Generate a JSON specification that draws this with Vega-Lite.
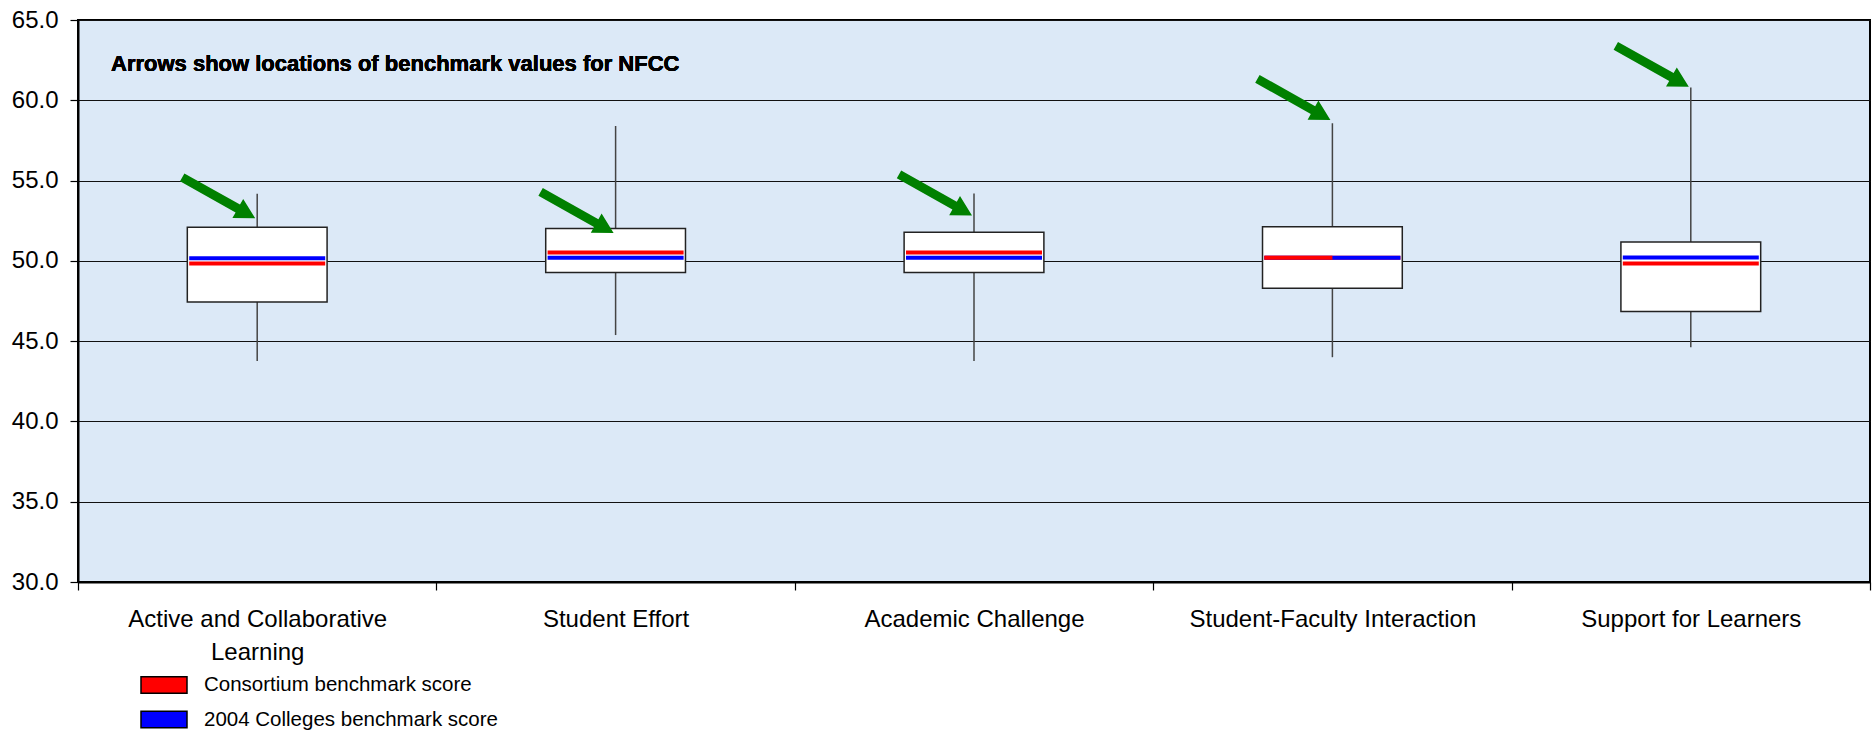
{
  "$schema": "https://vega.github.io/schema/vega-lite/v6.json",
  "autosize": {"type": "none"},
  "padding": {"left": 78, "top": 20, "right": 3, "bottom": 149},
  "width": 1792,
  "height": 562,
  "background": "white",
  "config": {
    "view": {"fill": "#dce9f7", "stroke": "black", "strokeWidth": 2},
    "font": "Liberation Sans"
  },
  "datasets": {
    "boxes": [
      {"category": "Active and Collaborative Learning", "min": 43.77, "q1": 47.43, "q3": 52.1, "max": 54.18, "Consortium benchmark score": 49.83, "2004 Colleges benchmark score": 50.17, "benchmark": 52.65},
      {"category": "Student Effort", "min": 45.38, "q1": 49.27, "q3": 52.02, "max": 58.4, "Consortium benchmark score": 50.52, "2004 Colleges benchmark score": 50.19, "benchmark": 51.74},
      {"category": "Academic Challenge", "min": 43.77, "q1": 49.27, "q3": 51.78, "max": 54.19, "Consortium benchmark score": 50.52, "2004 Colleges benchmark score": 50.19, "benchmark": 52.83},
      {"category": "Student-Faculty Interaction", "min": 44.0, "q1": 48.29, "q3": 52.12, "max": 58.57, "Consortium benchmark score": 50.19, "2004 Colleges benchmark score": 50.19, "benchmark": 58.78},
      {"category": "Support for Learners", "min": 44.62, "q1": 46.85, "q3": 51.18, "max": 60.8, "Consortium benchmark score": 49.83, "2004 Colleges benchmark score": 50.21, "benchmark": 60.84}
    ]
  },
  "data": {"name": "boxes"},
  "encoding": {
    "x": {
      "field": "category",
      "type": "nominal",
      "sort": null,
      "scale": {"paddingInner": 0, "paddingOuter": 0},
      "axis": {
        "title": null,
        "labelAngle": 0,
        "tickBand": "extent",
        "tickSize": 8,
        "tickColor": "black",
        "tickWidth": 1.2,
        "domainColor": "black",
        "domainWidth": 2,
        "labelFont": "Liberation Sans",
        "labelFontSize": 24,
        "labelColor": "black",
        "labelPadding": 17,
        "labelLineHeight": 33,
        "labelLimit": 400,
        "labelOverlap": false,
        "grid": false,
        "labelExpr": "datum.label == 'Active and Collaborative Learning' ? ['Active and Collaborative', 'Learning'] : datum.label"
      }
    }
  },
  "layer": [
    {
      "mark": {"type": "rule", "color": "#444444", "strokeWidth": 1.5},
      "encoding": {
        "y": {
          "field": "min",
          "type": "quantitative",
          "scale": {"domain": [30, 65], "nice": false, "zero": false},
          "axis": {
            "title": null,
            "values": [30, 35, 40, 45, 50, 55, 60, 65],
            "format": ".1f",
            "grid": true,
            "gridColor": "#111111",
            "gridWidth": 1,
            "tickSize": 8,
            "tickColor": "black",
            "tickWidth": 1.2,
            "domainColor": "black",
            "domainWidth": 2,
            "labelFont": "Liberation Sans",
            "labelFontSize": 24,
            "labelColor": "black",
            "labelPadding": 12
          }
        },
        "y2": {"field": "max"}
      }
    },
    {
      "mark": {"type": "bar", "width": {"band": 0.39}, "fill": "white", "stroke": "#222222", "strokeWidth": 1.5},
      "encoding": {
        "y": {"field": "q1", "type": "quantitative"},
        "y2": {"field": "q3"}
      }
    },
    {
      "transform": [
        {"fold": ["Consortium benchmark score", "2004 Colleges benchmark score"], "as": ["series", "score"]}
      ],
      "mark": {"type": "tick", "thickness": 4, "size": 136, "opacity": 1},
      "encoding": {
        "y": {"field": "score", "type": "quantitative"},
        "color": {
          "field": "series",
          "type": "nominal",
          "scale": {"domain": ["Consortium benchmark score", "2004 Colleges benchmark score"], "range": ["#ff0000", "#0000ff"]},
          "legend": {
            "title": null,
            "orient": "none",
            "legendX": 75,
            "legendY": 654,
            "padding": 0,
            "symbolType": "M-2.3,-0.83H2.3V0.83H-2.3Z",
            "symbolSize": 400,
            "symbolStrokeColor": "black",
            "symbolStrokeWidth": 1.5,
            "symbolOpacity": 1,
            "labelFont": "Liberation Sans",
            "labelFontSize": 20.5,
            "labelColor": "black",
            "labelOffset": 29,
            "labelLimit": 500,
            "rowPadding": 10.5,
            "encode": {
              "symbols": {
                "update": {
                  "stroke": {"value": "black"},
                  "strokeWidth": {"value": 1.5}
                }
              }
            }
          }
        }
      }
    },
    {
      "transform": [
        {"filter": "datum['Consortium benchmark score'] == datum['2004 Colleges benchmark score']"}
      ],
      "mark": {"type": "rule", "strokeWidth": 4, "color": "#ff0000"},
      "encoding": {
        "x": {"field": "category", "type": "nominal", "sort": null, "bandPosition": 0.31},
        "x2": {"field": "category", "bandPosition": 0.5},
        "y": {"field": "Consortium benchmark score", "type": "quantitative"}
      }
    },
    {
      "mark": {
        "type": "point",
        "shape": "M0,0L-0.57,-0.005L-0.49,-0.148L-1.88,-0.928L-1.77,-1.123L-0.38,-0.343L-0.3,-0.485Z",
        "size": 6400,
        "filled": true,
        "fill": "#008000",
        "stroke": null,
        "strokeWidth": 0,
        "opacity": 1,
        "xOffset": -2
      },
      "encoding": {
        "y": {"field": "benchmark", "type": "quantitative"}
      }
    },
    {
      "mark": {
        "type": "text",
        "text": "Arrows show locations of benchmark values for NFCC",
        "font": "Liberation Sans",
        "fontWeight": "bold",
        "fontSize": 22,
        "align": "left",
        "baseline": "alphabetic",
        "color": "black",
        "dx": 33
      },
      "encoding": {
        "x": {"datum": "Active and Collaborative Learning", "bandPosition": 0},
        "y": {"datum": 61.84}
      }
    }
  ]
}
